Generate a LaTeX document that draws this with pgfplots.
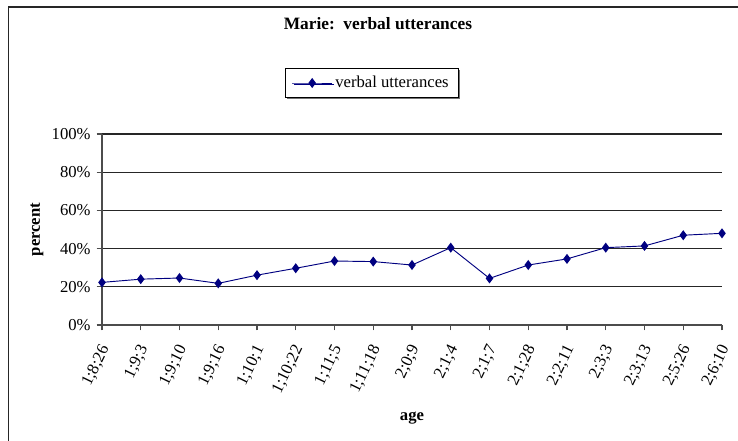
\documentclass[border=0pt]{standalone}
\usepackage{pgfplots}
\pgfplotsset{compat=1.18}
\usepackage{fontspec}
\setmainfont{Liberation Serif}
\usetikzlibrary{shadows}
\definecolor{navyline}{RGB}{0,0,128}
\begin{document}
\begin{tikzpicture}
\path[use as bounding box] (0pt,0pt) rectangle (553.5pt,-330.75pt);
\draw[line width=1.1pt, black!85] (6.2pt,-330.75pt) -- (6.2pt,-5.4pt) -- (553.5pt,-5.4pt);
\begin{axis}[
  at={(76.5pt,-243.75pt)}, anchor=south west,
  scale only axis, width=465pt, height=143.25pt,
  xmin=0, xmax=16, ymin=0, ymax=100,
  axis x line*=bottom, axis y line*=left,
  axis line style={black!70, line width=0.8pt},
  xtick={0,...,16},
  xticklabels={1;8;26,1;9;3,1;9;10,1;9;16,1;10;1,1;10;22,1;11;5,1;11;18,2;0;9,2;1;4,2;1;7,2;1;28,2;2;11,2;3;3,2;3;13,2;5;26,2;6;10},
  ytick={0,20,...,100},
  yticklabel={\pgfmathprintnumber{\tick}\%},
  /pgf/number format/assume math mode=true,
  tick style={black!70, line width=0.8pt},
  tick align=outside, major tick length=4pt,
  ymajorgrids, major grid style={black!85, line width=0.8pt},
  ticklabel style={font=\fontsize{12.5}{14}\selectfont},
  xticklabel style={yshift=-9pt, xshift=4pt, rotate=64, anchor=east},
  yticklabel style={xshift=-1pt},
  xlabel={\textbf{age}},
  xlabel style={at={(axis description cs:0.5,-0.487)}, anchor=center, font=\fontsize{12.5}{14}\selectfont},
  ylabel={\textbf{percent}},
  ylabel style={at={(axis description cs:-0.105,0.5)}, anchor=center, rotate=0, font=\fontsize{12.5}{14}\selectfont},
  title={\textbf{Marie:\ \ verbal utterances}},
  title style={at={(axis description cs:0.445,1.534)}, anchor=center, font=\fontsize{13}{15}\selectfont},
  legend style={at={(axis description cs:0.4347,1.267)}, anchor=center,
    draw=black, line width=0.6pt, fill=white,
    drop shadow={shadow xshift=1.2pt, shadow yshift=-1.2pt, fill=black!55, opacity=1},
    font=\fontsize{12.5}{14}\selectfont, inner xsep=5pt, inner ysep=4pt},
  legend cell align=left,
  legend image code/.code={\draw[mark repeat=2,mark phase=2] plot coordinates {(0pt,0pt) (15pt,0pt) (30pt,0pt)};},
]
\addplot[navyline, line width=0.7pt, mark=diamond*, mark size=3.2pt, mark options={fill=navyline, draw=navyline}]
coordinates {
(0,22.3) (1,24.0) (2,24.6) (3,21.8) (4,26.1) (5,29.7) (6,33.5) (7,33.2) (8,31.4)
(9,40.5) (10,24.4) (11,31.4) (12,34.6) (13,40.5) (14,41.4) (15,47.0) (16,48.0)
};
\addlegendentry{verbal utterances}
\end{axis}
\end{tikzpicture}
\end{document}
